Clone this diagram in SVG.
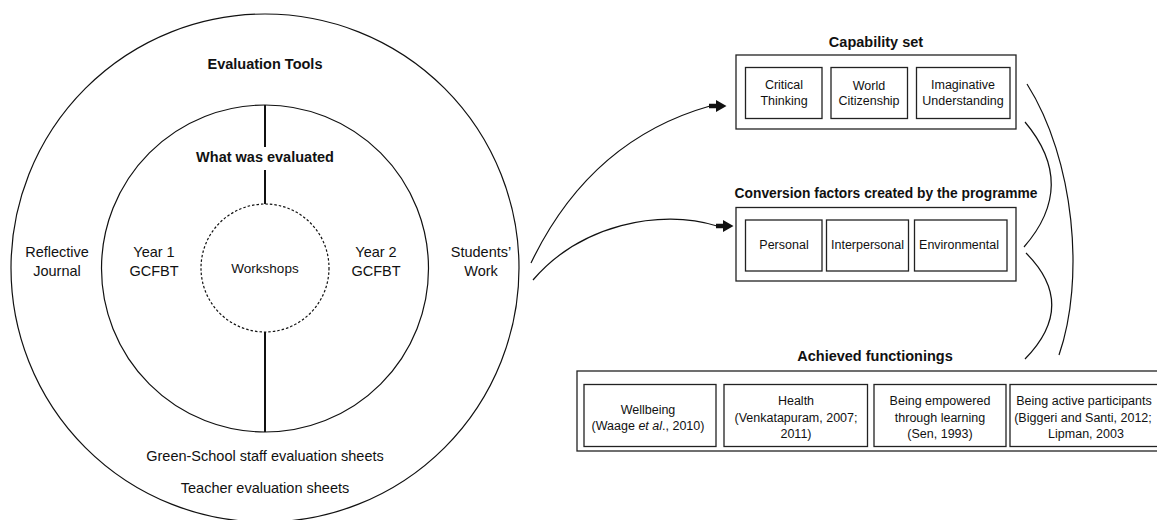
<svg xmlns="http://www.w3.org/2000/svg" width="1157" height="520" viewBox="0 0 1157 520">
  <style>
    .t{font-family:"Liberation Sans",Arial,Helvetica,sans-serif;fill:#111;text-anchor:middle}
    .h{font-weight:bold;font-size:14.5px}
    .c{font-size:14.5px}
    .w{font-size:13.5px}
    .b{font-size:12.5px}
    .ln{fill:none;stroke:#111;stroke-width:1.2}
    .axis{fill:none;stroke:#111;stroke-width:2}
    .bx{fill:#fff;stroke:#222;stroke-width:1.3}
    .head{fill:#111;stroke:none}
  </style>
  <rect width="1157" height="520" fill="#fff"/>

  <!-- Concentric evaluation circles -->
  <g id="evaluation-tools">
    <circle class="ln" cx="265" cy="268" r="254"/>
    <text class="t h" x="265" y="69">Evaluation Tools</text>
    <text class="t c" x="57" y="257">Reflective</text>
    <text class="t c" x="57" y="276">Journal</text>
    <text class="t c" x="481" y="257">Students’</text>
    <text class="t c" x="481" y="276">Work</text>
    <text class="t c" x="265" y="461">Green-School staff evaluation sheets</text>
    <text class="t c" x="265" y="493">Teacher evaluation sheets</text>
  </g>
  <g id="what-was-evaluated">
    <circle class="ln" cx="265" cy="268.5" r="163.5"/>
    <line class="axis" x1="265" y1="105" x2="265" y2="147"/>
    <line class="axis" x1="265" y1="170" x2="265" y2="204"/>
    <line class="axis" x1="265" y1="332" x2="265" y2="432"/>
    <text class="t h" x="265" y="162">What was evaluated</text>
    <text class="t c" x="154" y="257">Year 1</text>
    <text class="t c" x="154" y="276">GCFBT</text>
    <text class="t c" x="376" y="257">Year 2</text>
    <text class="t c" x="376" y="276">GCFBT</text>
  </g>
  <g id="workshops">
    <circle cx="265" cy="268" r="64" fill="none" stroke="#111" stroke-width="1.2" stroke-dasharray="2.5 2"/>
    <text class="t w" x="265" y="273">Workshops</text>
  </g>

  <!-- Capability set -->
  <g id="capability-set">
    <text class="t h" x="876" y="47">Capability set</text>
    <rect class="bx" x="736" y="55" width="280" height="74"/>
    <g id="critical-thinking">
      <rect class="bx" x="745.5" y="67.5" width="76.5" height="51"/>
      <text class="t b" x="784" y="88.5">Critical</text>
      <text class="t b" x="784" y="104.5">Thinking</text>
    </g>
    <g id="world-citizenship">
      <rect class="bx" x="831" y="67.5" width="76.5" height="51"/>
      <text class="t b" x="869" y="89.5">World</text>
      <text class="t b" x="869" y="105">Citizenship</text>
    </g>
    <g id="imaginative-understanding">
      <rect class="bx" x="916.5" y="67.5" width="93.5" height="51"/>
      <text class="t b" x="963" y="88.5">Imaginative</text>
      <text class="t b" x="963" y="104.5">Understanding</text>
    </g>
  </g>

  <!-- Conversion factors -->
  <g id="conversion-factors">
    <text class="t h" x="886" y="198" style="font-size:13.8px">Conversion factors created by the programme</text>
    <rect class="bx" x="736" y="207.5" width="280" height="73.5"/>
    <g id="personal">
      <rect class="bx" x="745.5" y="220" width="76.5" height="51"/>
      <text class="t b" x="784" y="248.5">Personal</text>
    </g>
    <g id="interpersonal">
      <rect class="bx" x="826.5" y="220" width="82" height="51"/>
      <text class="t b" x="867.5" y="249">Interpersonal</text>
    </g>
    <g id="environmental">
      <rect class="bx" x="914.5" y="220" width="92.5" height="51"/>
      <text class="t b" x="959" y="248.5">Environmental</text>
    </g>
  </g>

  <!-- Achieved functionings -->
  <g id="achieved-functionings">
    <text class="t h" x="875" y="361">Achieved functionings</text>
    <rect class="bx" x="577" y="371" width="595" height="80"/>
    <g id="wellbeing">
      <rect class="bx" x="584" y="384.5" width="132" height="62"/>
      <text class="t b" x="648" y="413.5">Wellbeing</text>
      <text class="t b" x="648" y="430">(Waage <tspan font-style="italic">et al</tspan>., 2010)</text>
    </g>
    <g id="health">
      <rect class="bx" x="724" y="384.5" width="143.5" height="62"/>
      <text class="t b" x="796" y="405">Health</text>
      <text class="t b" x="796" y="421.5">(Venkatapuram, 2007;</text>
      <text class="t b" x="796" y="438">2011)</text>
    </g>
    <g id="being-empowered">
      <rect class="bx" x="874" y="384.5" width="132" height="62"/>
      <text class="t b" x="940" y="405">Being empowered</text>
      <text class="t b" x="940" y="421.5">through learning</text>
      <text class="t b" x="940" y="438">(Sen, 1993)</text>
    </g>
    <g id="being-active-participants">
      <rect class="bx" x="1010" y="384.5" width="158" height="62"/>
      <text class="t b" x="1084" y="405">Being active participants</text>
      <text class="t b" x="1083" y="421.5">(Biggeri and Santi, 2012;</text>
      <text class="t b" x="1086" y="438">Lipman, 2003</text>
    </g>
  </g>

  <!-- Connectors -->
  <g id="connectors">
    <path class="ln" d="M531,263 Q590,140 710,106"/>
    <path class="head" d="M709,103.8 L716,103.8 L716,100 L726.5,106 L716,112 L716,108.2 L709,108.2 Z"/>
    <path class="ln" d="M533,280 C580,225 660,208 717,226"/>
    <path class="head" d="M716,223.8 L723,223.8 L723,220 L733.5,226 L723,232 L723,228.2 L716,228.2 Z"/>
    <path class="ln" d="M1027,84 C1075,160 1085,280 1059,355"/>
    <path class="ln" d="M1025,122 Q1078,185 1024,247"/>
    <path class="ln" d="M1026,253 Q1078,305 1025,359"/>
  </g>
</svg>
